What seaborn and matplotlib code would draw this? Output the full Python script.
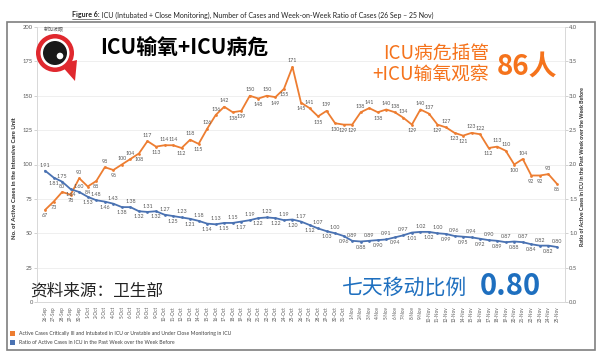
import numpy as np
import pandas as pd
import matplotlib
matplotlib.use("Agg")
import matplotlib.pyplot as plt
import seaborn as sns
from matplotlib.patches import Rectangle, Circle, Polygon

# ---------------- data ----------------
dates = pd.date_range("2021-09-26", "2021-11-25", freq="D")
date_labels = [f"{d.day}-{d.strftime('%b')}" for d in dates]

icu_cases = [67, 73, 80, 78, 90, 84, 88, 98, 96, 100, 104, 108, 117, 113, 114, 114,
             112, 118, 115, 126, 136, 142, 138, 139, 150, 148, 150, 149, 155, 171,
             145, 141, 135, 139, 130, 129, 129, 138, 141, 138, 140, 138, 134, 129,
             140, 137, 129, 127, 123, 121, 123, 122, 112, 113, 110, 100, 104, 92,
             92, 93, 86]
wow_ratio = [1.91, 1.81, 1.75, 1.64, 1.60, 1.53, 1.48, 1.46, 1.43, 1.38, 1.38, 1.32,
             1.31, 1.32, 1.27, 1.25, 1.23, 1.21, 1.18, 1.14, 1.13, 1.15, 1.15, 1.17,
             1.19, 1.22, 1.23, 1.22, 1.19, 1.20, 1.17, 1.12, 1.07, 1.03, 1.00, 0.96,
             0.89, 0.88, 0.89, 0.90, 0.91, 0.94, 0.97, 1.01, 1.02, 1.02, 1.00, 0.99,
             0.96, 0.95, 0.94, 0.92, 0.90, 0.89, 0.87, 0.88, 0.87, 0.84, 0.82, 0.82,
             0.80]
left_ticks = [0, 25, 50, 75, 100, 125, 150, 175, 200]
right_ticks = [0.0, 0.5, 1.0, 1.5, 2.0, 2.5, 3.0, 3.5, 4.0]

title_bold = "Figure 6:"
title_rest = " ICU (Intubated + Close Monitoring), Number of Cases and Week-on-Week Ratio of Cases (26 Sep \u2013 25 Nov)"
left_label = "No. of Active Cases in the Intensive Care Unit"
right_label = "Ratio of Active Cases in ICU in the Past Week over the Week Before"
legend_labels = ["Active Cases Critically Ill and Intubated in ICU or Unstable and Under Close Monitoring in ICU",
                 "Ratio of Active Cases in ICU in the Past Week over the Week Before"]

ORANGE = "#ED7D31"
BLUE = "#4A72B2"
TXT_ORANGE = "#F5731C"
TXT_BLUE = "#1E6FBF"
GRAY = "#595959"

assert len(icu_cases) == len(wow_ratio) == len(date_labels) == 61

sns.set_theme(style="white")
plt.rcParams['font.family'] = ['Lato', 'DejaVu Sans']
CJK = ['Noto Sans CJK SC', 'DejaVu Sans']

W, H = 601, 363
fig = plt.figure(figsize=(W / 100, H / 100), dpi=100)
fig.patch.set_facecolor("white")

ax = fig.add_axes([37 / W, 1 - 302 / H, 528 / W, 275 / H])
ax2 = ax.twinx()

df = pd.DataFrame({"x": np.arange(len(icu_cases)), "cases": icu_cases, "ratio": wow_ratio})
sns.lineplot(data=df, x="x", y="cases", ax=ax, color=ORANGE, lw=1.3,
             marker="o", markersize=2, markeredgewidth=0)
sns.lineplot(data=df, x="x", y="ratio", ax=ax2, color=BLUE, lw=1.3,
             marker="o", markersize=2, markeredgewidth=0)

ax.set_xlim(-0.95, len(icu_cases) - 0.05)
ax.set_ylim(0, 200)
ax2.set_ylim(0, 4)
ax.set_yticks(left_ticks)
ax.set_yticklabels([str(t) for t in left_ticks])
ax2.set_yticks(right_ticks)
ax2.set_yticklabels([f"{t:.1f}" for t in right_ticks])
ax.set_xticks(df["x"])
ax.set_xticklabels(date_labels, rotation=90, fontsize=3.3, color=GRAY)
ax.set_xlabel("")
ax.set_ylabel("")
ax2.set_ylabel("")
ax.yaxis.grid(True, color="#ececec", lw=0.6)
ax.set_axisbelow(True)
for a in (ax, ax2):
    a.tick_params(axis="y", labelsize=4.2, labelcolor=GRAY, length=2, width=0.5,
                  color="#bfbfbf", pad=1)
    for s in a.spines.values():
        s.set_color("#d9d9d9")
        s.set_linewidth(0.6)
    a.spines["top"].set_visible(False)
ax.tick_params(axis="x", length=2, width=0.5, color="#bfbfbf", pad=1)
ax.tick_params(axis="y", left=True)
ax2.tick_params(axis="y", right=True)


def place_labels(a, vals, fmt, off, alternate=False):
    n = len(vals)
    for i, v in enumerate(vals):
        if alternate:
            above = (i % 2 == 0)
        else:
            prev_v = vals[i - 1] if i > 0 else vals[i + 1]
            next_v = vals[i + 1] if i < n - 1 else vals[i - 1]
            above = v >= (prev_v + next_v) / 2
        a.annotate(fmt(v), (i, v), xytext=(0, off if above else -off),
                   textcoords="offset points", ha="center",
                   va="bottom" if above else "top", fontsize=3.9, color=GRAY)


place_labels(ax, icu_cases, lambda v: f"{v}", 2.5)
place_labels(ax2, wow_ratio, lambda v: f"{v:.2f}", 2.2, alternate=True)

# ---------------- overlay in pixel coordinates ----------------
ov = fig.add_axes([0, 0, 1, 1], zorder=10)
ov.set_xlim(0, W)
ov.set_ylim(H, 0)
ov.axis("off")
ov.patch.set_alpha(0)

# frame
ov.add_patch(Rectangle((7, 22), 588, 328, fill=False, ec="#7f7f7f", lw=1.2))

# title
t1 = ov.text(72, 15, title_bold, fontsize=5, fontweight="bold", va="center", ha="left", color="#222222")
fig.canvas.draw()
bb = t1.get_window_extent(renderer=fig.canvas.get_renderer())
ov.plot([bb.x0, bb.x1], [18.5, 18.5], color="#222222", lw=0.4)
ov.text(bb.x1, 15, title_rest, fontsize=5, va="center", ha="left", color="#222222")

# axis titles
ov.text(15, 178, left_label, rotation=90, fontsize=4.3, fontweight="bold",
        ha="center", va="center", color="#262626")
ov.text(583, 167, right_label, rotation=90, fontsize=3.8, fontweight="bold",
        ha="center", va="center", color="#262626")

# legend
ov.add_patch(Rectangle((10, 330.5), 5, 5, color=ORANGE, lw=0))
ov.text(19, 333, legend_labels[0], fontsize=3.7, va="center", ha="left", color="#404040")
ov.add_patch(Rectangle((10, 339.5), 5, 5, color=BLUE, lw=0))
ov.text(19, 342, legend_labels[1], fontsize=3.7, va="center", ha="left", color="#404040")

# logo
ov.text(44, 29.5, "新加坡眼", fontsize=3.6, family=CJK, color="#555555", va="center", ha="left")
ov.add_patch(Polygon([[60, 64], [77, 60], [75, 81]], closed=True, color="#E0282E", lw=0))
ov.add_patch(Circle((55, 53), 19, color="#E0282E", lw=0))
ov.add_patch(Circle((55, 53), 14.5, color="white", lw=0))
ov.add_patch(Circle((55, 53), 12, color="#1a1a1a", lw=0))
ov.add_patch(Circle((60, 56), 3.3, color="white", lw=0))

# overlay annotations
ov.text(100, 47, "ICU输氧+ICU病危", fontsize=15, fontweight="bold", family=CJK,
        color="black", va="center", ha="left")
ov.text(489, 53, "ICU病危插管", fontsize=13.5, family=CJK, color=TXT_ORANGE,
        va="center", ha="right")
ov.text(489, 75, "+ICU输氧观察", fontsize=13.5, family=CJK, color=TXT_ORANGE,
        va="center", ha="right")
ov.text(557, 68, "86人", fontsize=20, fontweight="bold", family=CJK, color=TXT_ORANGE,
        va="center", ha="right")
ov.text(30, 291, "资料来源：卫生部", fontsize=12, family=CJK, color="#222222",
        va="center", ha="left")
ov.text(342, 288, "七天移动比例", fontsize=15, family=CJK, color=TXT_BLUE,
        va="center", ha="left")
ov.text(480, 286, "0.80", fontsize=21, fontweight="bold", family=CJK, color=TXT_BLUE,
        va="center", ha="left")

fig.savefig("out.png", dpi=100, facecolor="white")
